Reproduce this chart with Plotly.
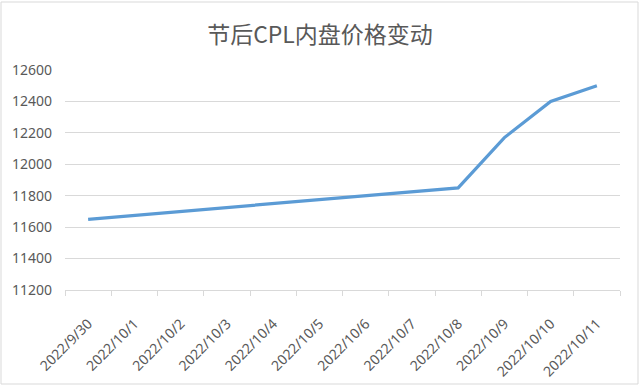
import plotly.graph_objects as go

dates = ["2022/9/30", "2022/10/1", "2022/10/2", "2022/10/3", "2022/10/4", "2022/10/5",
         "2022/10/6", "2022/10/7", "2022/10/8", "2022/10/9", "2022/10/10", "2022/10/11"]
prices = [11650, 11675, 11700, 11725, 11750, 11775, 11800, 11825, 11850, 12170, 12400, 12500]
y_ticks = [11200, 11400, 11600, 11800, 12000, 12200, 12400, 12600]
title_text = "节后CPL内盘价格变动"

L, R, T, B = 65, 20, 70, 95
W, H = 640, 385
pw, ph = W - L - R, H - T - B

fig = go.Figure()
fig.add_trace(go.Scatter(x=dates, y=prices, mode="lines",
                         line=dict(color="#5b9bd5", width=3.2), hoverinfo="x+y"))

fig.update_layout(
    width=W, height=H,
    margin=dict(l=L, r=R, t=T, b=B, autoexpand=False),
    paper_bgcolor="#ffffff", plot_bgcolor="#ffffff",
    showlegend=False,
    title=dict(text=title_text, x=0.5, xanchor="center", y=1 - 35 / H, yanchor="middle",
               font=dict(family="Noto Sans CJK SC", size=23, color="#595959")),
    font=dict(family="Noto Sans", color="#595959"),
    xaxis=dict(type="category", range=[-0.5, len(dates) - 0.5], tickson="boundaries",
               ticks="outside", ticklen=5, automargin=False,
               tickcolor="#d9d9d9", showline=True, linecolor="#d9d9d9", linewidth=1,
               showgrid=False, tickangle=-45, tickfont=dict(size=14, color="#595959"),
               ticklabelstandoff=19),
    yaxis=dict(range=[11200, 12600], tickvals=y_ticks, ticktext=[str(v) for v in y_ticks],
               showgrid=True, gridcolor="#d9d9d9", automargin=False,
               gridwidth=1, zeroline=False, showline=False, ticks="",
               tickfont=dict(size=14, color="#595959"), ticklabelstandoff=12),
    shapes=[dict(type="rect", xref="paper", yref="paper",
                 x0=(1 - L) / pw, x1=(W - 2 - L) / pw,
                 y0=-(B - 1) / ph, y1=1 + (T - 2) / ph,
                 line=dict(color="#d9d9d9", width=1), fillcolor="rgba(0,0,0,0)", layer="below")],
)

fig.write_html("out.html", config={"displayModeBar": False},
               post_script="document.body.style.margin='0';document.body.style.overflow='hidden';")
